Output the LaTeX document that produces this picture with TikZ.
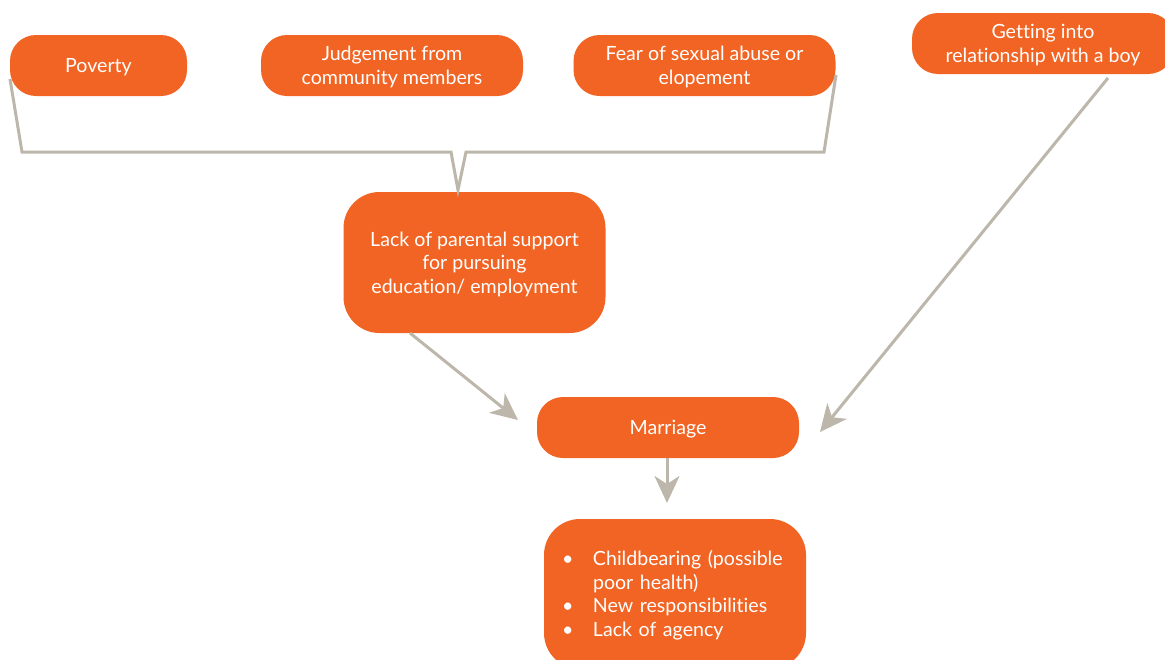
\documentclass[tikz,border=0pt]{standalone}
\usepackage{fontspec}
\setmainfont{Lato}[Ligatures=NoCommon]
\usetikzlibrary{arrows.meta}
\definecolor{boxorange}{HTML}{F16424}
\definecolor{linegray}{HTML}{BDB6AA}
\newcommand\dnbox[1]{\raisebox{-2.5pt}[\height][\depth]{\begin{tabular}{@{}c@{}}#1\end{tabular}}}
\begin{document}
\begin{tikzpicture}[x=1pt,y=-1pt,
  cbox/.style={rectangle, fill=boxorange, text=white, rounded corners=26pt,
    minimum height=61pt, minimum width=262pt, align=center, inner sep=0pt,
    font=\fontsize{19.6}{23.5}\selectfont},
  bigbox/.style={cbox, rounded corners=36pt},
  conn/.style={draw=linegray, line width=3pt},
  arr/.style={conn, -{Stealth[length=27pt,width=25pt,inset=8pt]}}
]
\useasboundingbox (0,0) rectangle (1165,659);
\node[cbox, minimum width=177pt] (pov) at (98.5,65.5) {\dnbox{Poverty}};
\node[cbox] (jud) at (392,65.5) {\dnbox{Judgement from\\community members}};
\node[cbox] (fear) at (704.5,65.5) {\dnbox{Fear of sexual abuse or\\elopement}};
\node[cbox] (boy) at (1043,43.5) {\dnbox{Getting into\\relationship with a boy}};
\node[bigbox, minimum height=141pt] (lack) at (474.5,262.5) {\dnbox{Lack of parental support\\for pursuing\\education/ employment}};
\node[cbox] (mar) at (668,427.5) {\dnbox{Marriage}};
\node[bigbox, minimum height=150pt, text width=220pt, align=left] (res) at (675,594)
  {\fontsize{19.6}{23.5}\selectfont\raisebox{-2.5pt}[\height][\depth]{\begin{tabular}{@{}p{28pt}@{}l@{}}
  \hspace{-3pt}\textbullet & Childbearing (possible\\
   & poor health)\\
  \hspace{-3pt}\textbullet & New responsibilities\\
  \hspace{-3pt}\textbullet & Lack of agency
  \end{tabular}}};
% brace
\coordinate (bl) at (10,79);
\coordinate (br) at (836,75);
\coordinate (tip) at (458,190);
\draw[conn, line join=miter] (bl) -- (22,152) -- (451,152) -- (tip) -- (466,152) -- (824,152) -- (br);
% arrows
\draw[arr] (410,333) -- (518,420);
\draw[arr] (1108,78) -- (820,432);
\draw[arr] (mar.south) ++(-1,0) -- (667,503);
\end{tikzpicture}
\end{document}
